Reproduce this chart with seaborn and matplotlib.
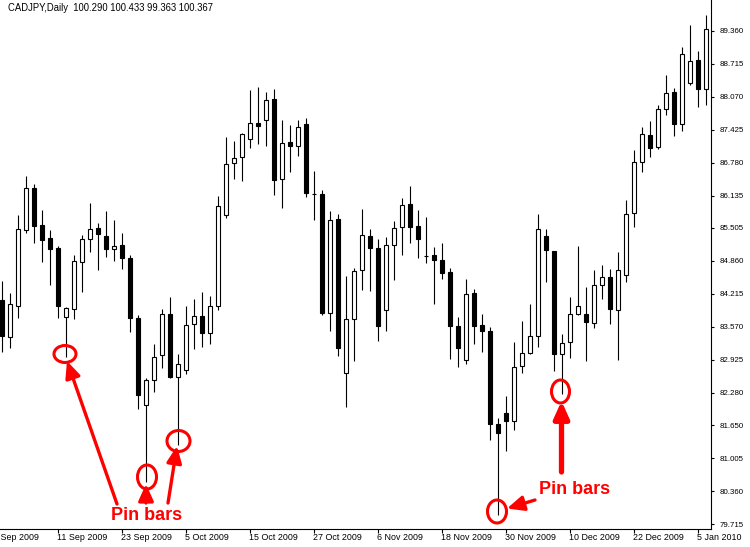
import matplotlib
matplotlib.use("Agg")
import matplotlib.pyplot as plt
import seaborn as sns
import pandas as pd
from matplotlib.patches import Ellipse

# ---------------- data (daily CADJPY candles) ----------------
opens = [84.10, 83.37, 83.98, 85.47, 86.28, 85.56, 85.30, 85.11, 83.76, 83.93,
         84.84, 85.28, 85.50, 85.34, 85.10, 85.17, 84.91, 83.74, 82.04, 82.53,
         83.02, 83.82, 82.60, 82.72, 83.62, 83.78, 83.45, 83.97, 85.75, 86.77,
         86.89, 87.25, 87.55, 87.61, 88.02, 86.46, 87.18, 87.10, 87.53, 86.16,
         86.16, 83.85, 85.67, 82.67, 83.72, 84.68, 85.34, 85.11, 83.91, 85.18,
         85.53, 85.97, 85.55, 84.95, 84.97, 84.87, 84.64, 83.58, 82.92, 84.23,
         83.60, 83.50, 81.68, 81.88, 81.74, 82.80, 83.07, 83.40, 85.34, 85.06,
         83.05, 83.28, 83.82, 83.82, 83.64, 84.38, 84.55, 83.91, 84.58, 85.79,
         86.80, 87.31, 87.09, 87.82, 88.16, 87.53, 88.33, 88.78, 88.21]
highs = [84.47, 84.23, 85.76, 86.52, 86.36, 85.85, 85.47, 85.15, 83.96, 84.98,
         85.36, 86.00, 85.61, 85.83, 85.66, 85.41, 84.98, 83.80, 82.58, 83.24,
         83.93, 84.15, 83.04, 83.98, 84.11, 84.25, 84.17, 86.13, 87.28, 87.20,
         87.36, 88.20, 88.26, 88.16, 88.22, 87.61, 87.51, 87.61, 87.65, 86.62,
         86.25, 85.83, 85.78, 84.57, 84.72, 85.87, 85.48, 85.28, 85.32, 85.63,
         86.08, 86.32, 85.85, 85.71, 85.13, 85.21, 84.72, 83.76, 84.50, 84.31,
         83.83, 83.56, 81.80, 82.23, 83.27, 83.68, 84.02, 85.78, 85.49, 85.06,
         83.44, 84.16, 85.15, 84.36, 84.68, 84.78, 84.71, 85.04, 86.05, 87.02,
         87.47, 87.59, 87.90, 88.50, 88.24, 89.04, 89.47, 88.95, 89.66]
lows = [83.09, 83.16, 83.75, 85.41, 85.20, 84.83, 84.38, 83.74, 82.99, 83.72,
        84.25, 85.04, 84.68, 84.93, 84.85, 84.70, 83.47, 81.96, 80.55, 82.30,
        82.76, 82.58, 81.27, 82.65, 83.14, 83.17, 83.23, 83.91, 85.70, 86.45,
        86.43, 87.07, 87.15, 87.11, 86.15, 85.90, 86.59, 86.91, 86.11, 85.66,
        83.81, 83.50, 83.01, 82.01, 82.91, 84.30, 84.28, 83.29, 83.50, 84.49,
        84.98, 85.21, 84.91, 84.81, 84.02, 84.50, 82.95, 82.79, 82.85, 83.23,
        83.09, 81.37, 79.90, 81.15, 81.55, 82.68, 83.05, 83.18, 84.44, 82.70,
        82.27, 82.96, 83.80, 82.91, 83.54, 84.11, 83.62, 82.93, 84.45, 85.53,
        86.59, 86.89, 87.05, 87.71, 87.30, 87.40, 88.30, 87.87, 87.91]
closes = [83.39, 84.01, 85.49, 86.28, 85.55, 85.26, 85.09, 83.98, 83.94, 84.86,
          85.28, 85.49, 85.39, 85.09, 85.15, 84.91, 83.74, 82.25, 82.53, 82.99,
          83.82, 82.59, 82.84, 83.61, 83.78, 83.45, 83.97, 85.93, 86.75, 86.87,
          87.33, 87.55, 87.49, 88.00, 86.44, 87.17, 87.11, 87.47, 86.18, 86.16,
          83.85, 85.65, 83.16, 83.72, 84.66, 85.36, 85.11, 83.59, 85.18, 85.51,
          85.95, 85.53, 85.29, 84.95, 84.87, 84.62, 83.58, 83.16, 84.22, 83.58,
          83.50, 81.68, 81.50, 81.74, 82.78, 83.07, 83.40, 85.48, 85.07, 83.05,
          83.25, 83.82, 83.98, 83.66, 84.38, 84.55, 83.92, 84.68, 85.78, 86.79,
          87.33, 87.06, 87.82, 88.14, 87.54, 88.90, 88.76, 88.21, 89.38]

date_labels = ["1 Sep 2009", "11 Sep 2009", "23 Sep 2009", "5 Oct 2009",
               "15 Oct 2009", "27 Oct 2009", "6 Nov 2009", "18 Nov 2009",
               "30 Nov 2009", "10 Dec 2009", "22 Dec 2009", "5 Jan 2010"]
date_label_bars = [-1, 7, 15, 23, 31, 39, 47, 55, 63, 71, 79, 87]
price_ticks = [89.360, 88.715, 88.070, 87.425, 86.780, 86.135, 85.505, 84.860,
               84.215, 83.570, 82.925, 82.280, 81.650, 81.005, 80.360, 79.715]
price_tick_labels = ["89.360", "88.715", "88.070", "87.425", "86.780", "86.135",
                     "85.505", "84.860", "84.215", "83.570", "82.925", "82.280",
                     "81.650", "81.005", "80.360", "79.715"]
chart_title = "CADJPY,Daily  100.290 100.433 99.363 100.367"
annotation_text = "Pin bars"

df = pd.DataFrame({"open": opens, "high": highs, "low": lows, "close": closes})
df["bar"] = range(len(df))
df["bottom"] = df[["open", "close"]].min(axis=1)
df["height"] = (df["close"] - df["open"]).abs()
df["bull"] = df["close"] >= df["open"]

# ---------------- styling ----------------
sns.set_theme(style="white")
plt.rcParams["font.family"] = ["Liberation Sans", "DejaVu Sans"]

W, H = 750, 547
fig = plt.figure(figsize=(W / 100, H / 100), dpi=100)
fig.patch.set_facecolor("white")
ax = fig.add_axes([0, 18 / H, 711 / W, 529 / H])
ax.set_facecolor("white")

PX_PER_BAR = 8.0
PX_PER_UNIT = 51.2
REF_PRICE, REF_Y = 89.36, 30.5
ax.set_xlim(-0.25, -0.25 + 711 / PX_PER_BAR)
ax.set_ylim(REF_PRICE - (529 - REF_Y) / PX_PER_UNIT, REF_PRICE + REF_Y / PX_PER_UNIT)


def px(xp, yp):
    """pixel position of the picture -> data coordinates (for annotations only)"""
    return (xp - 2) / PX_PER_BAR, REF_PRICE - (yp - REF_Y) / PX_PER_UNIT


# wicks
ax.vlines(df["bar"], df["low"], df["high"], color="black", linewidth=0.8, zorder=2)
# bodies
bw = 0.56
ax.bar(df.loc[df.bull, "bar"], df.loc[df.bull, "height"], bottom=df.loc[df.bull, "bottom"],
       width=bw, color="white", edgecolor="black", linewidth=0.8, zorder=3)
ax.bar(df.loc[~df.bull, "bar"], df.loc[~df.bull, "height"], bottom=df.loc[~df.bull, "bottom"],
       width=bw, color="black", edgecolor="black", linewidth=0.8, zorder=3)

# spines
for s in ["top", "left"]:
    ax.spines[s].set_visible(False)
for s in ["right", "bottom"]:
    ax.spines[s].set_visible(True)
    ax.spines[s].set_color("black")
    ax.spines[s].set_linewidth(0.8)

# price axis on the right
ax.yaxis.tick_right()
ax.set_yticks(price_ticks)
ax.set_yticklabels(price_tick_labels)
ax.tick_params(axis="y", direction="out", length=2.5, width=0.8, pad=3.5,
               labelsize=5.7, colors="black", right=True, left=False)

# date axis
ax.set_xticks([b for b in date_label_bars if b >= 0])
ax.set_xticklabels([])
ax.tick_params(axis="x", direction="out", length=3, width=0.8, bottom=True, colors="black")
for b, lab in zip(date_label_bars, date_labels):
    ax.annotate(lab, xy=(b, 0), xycoords=("data", "axes fraction"),
                xytext=(-0.5, -3.0), textcoords="offset points",
                ha="left", va="top", fontsize=6.4, color="black", annotation_clip=False)

ax.grid(False)

# title
fig.text(8 / W, 1 - 8 / H, chart_title, ha="left", va="center", fontsize=6.85, color="black")

# ---------------- annotations ----------------
red = "#ff0000"
ellipses = [((65, 354), 22, 17), ((147, 477), 19, 24), ((178.5, 441), 23, 21),
            ((497, 511.5), 19, 23), ((560.5, 391.5), 18, 23)]
for (cx, cy), w, h in ellipses:
    ax.add_patch(Ellipse(px(cx, cy), w / PX_PER_BAR, h / PX_PER_UNIT, fill=False,
                         edgecolor=red, linewidth=2.2, zorder=5, clip_on=False))

arrows = [((117, 504), (67, 361), 2.4), ((146, 503), (146, 484), 2.4),
          ((168, 503), (177, 446), 2.4), ((561.5, 472), (561.5, 401), 3.8),
          ((535, 500), (507, 508.5), 2.4)]
for tail, tip, lw in arrows:
    ax.annotate("", xy=px(*tip), xytext=px(*tail), xycoords="data", textcoords="data",
                arrowprops=dict(arrowstyle="-|>,head_length=1.0,head_width=0.45",
                                mutation_scale=10, color=red, lw=lw,
                                shrinkA=0, shrinkB=0), zorder=6, annotation_clip=False)

for (cx, cy) in [(147, 515), (575, 489.5)]:
    ax.text(*px(cx, cy), annotation_text, ha="center", va="center", fontsize=13,
            fontweight="bold", color=red, zorder=7)

fig.savefig("out.png", dpi=100)
